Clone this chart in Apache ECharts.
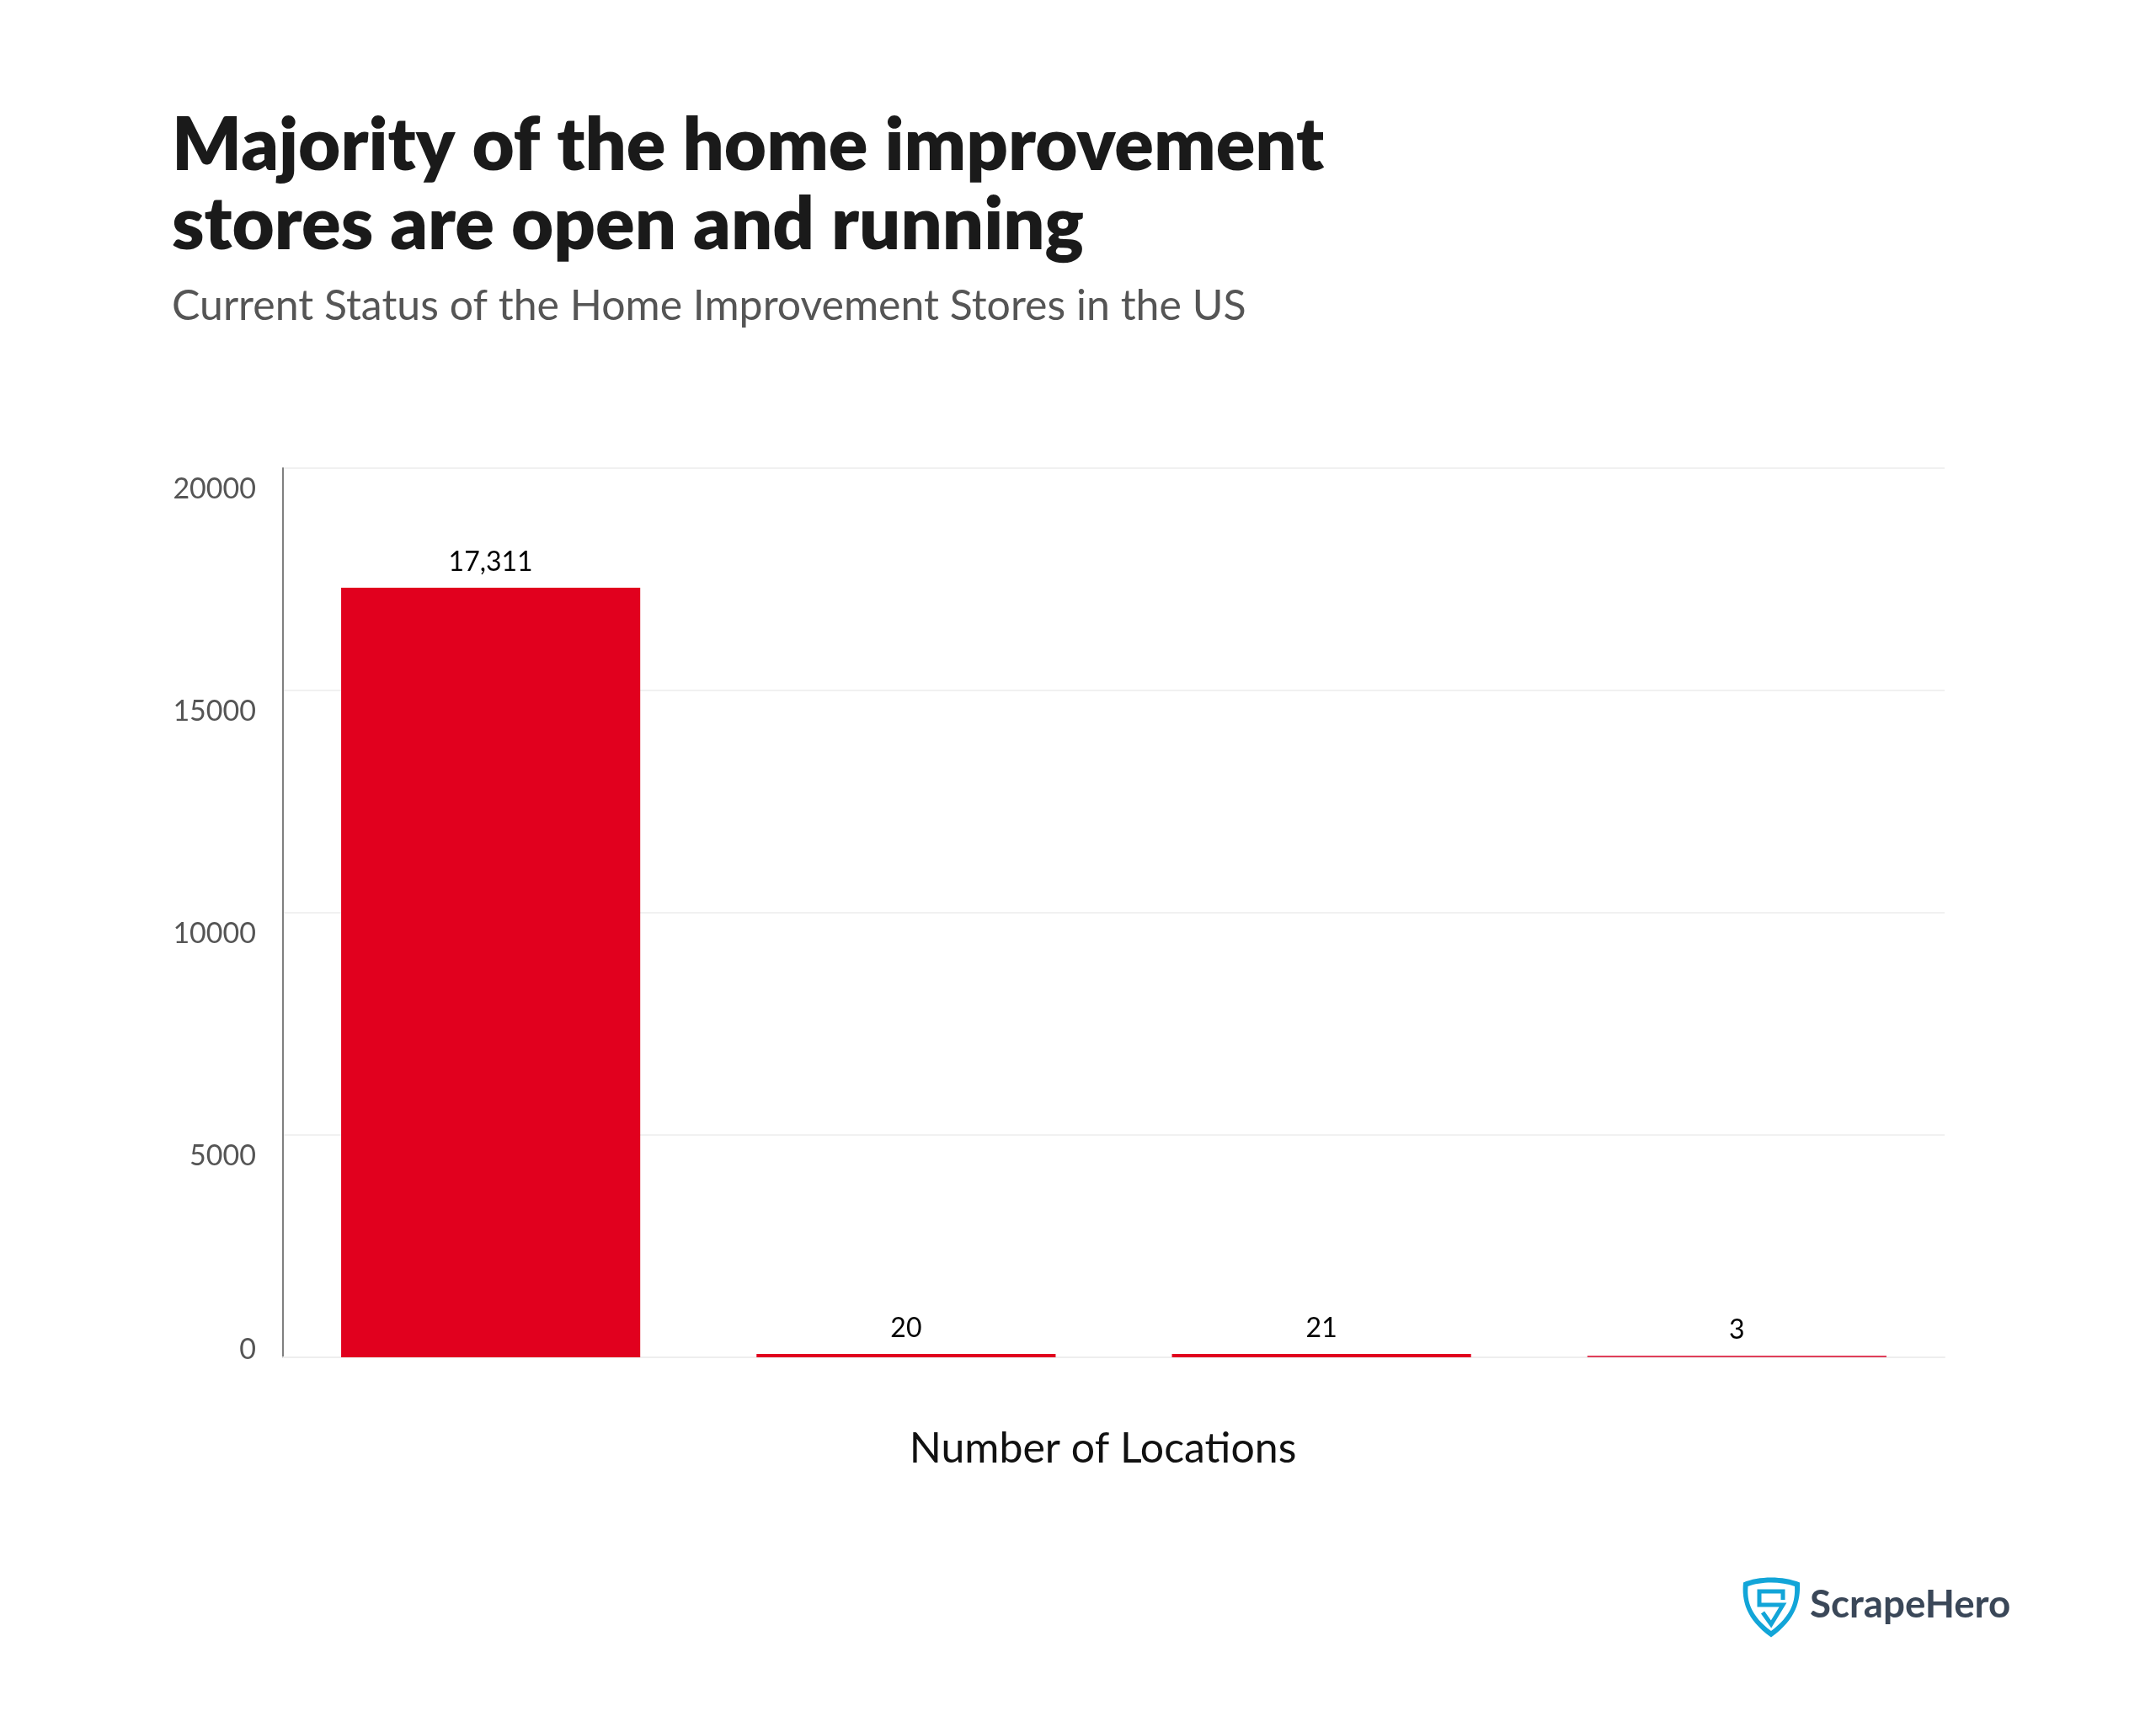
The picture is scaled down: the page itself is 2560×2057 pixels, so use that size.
<!DOCTYPE html>
<html>
<head>
<meta charset="utf-8">
<title>Home improvement stores</title>
<script src="https://cdn.jsdelivr.net/npm/echarts@6/dist/echarts.min.js"></script>
<style>
  html, body { margin: 0; padding: 0; background: #fff; }
  #chart { width: 2560px; height: 2057px; }
</style>
</head>
<body>
<div id="chart"></div>
<script>
// ===== Data =====
const categories = ['Status A', 'Status B', 'Status C', 'Status D']; // not printed on the chart
const locations = [17311, 20, 21, 3];
const titleLines = ['Majority of the home improvement', 'stores are open and running'];
const subtitle = 'Current Status of the Home Improvement Stores in the US';
const xName = 'Number of Locations';
const yMax = 20000;
const yStep = 5000;

const FONT = 'Lato';
const RED = '#e1001e';
const LOGO_BLUE = '#12a5d8';

// the 3-location bar is a hairline and paler than the others
const mainBars = locations.map(v => (v >= 10 ? v : null));
const thinBars = locations.map(v => (v < 10 ? v : null));

// Logo shield: outer edge, then inner edge wound the other way to leave a hole
echarts.graphic.registerShape('logoShield', echarts.graphic.extendPath(
  'M33 2.5 C45 2.5 57 4.5 67 8.5 C68 30 63 52 33 73.5 C3 52 -2 30 0 8.5 C9 4.5 21 2.5 33 2.5 Z ' +
  'M33 8.5 C23 8.5 13 10 5.5 13 C4 31 9 48 33 66 C57 48 62 31 61 13 C53 10 43 8.5 33 8.5 Z'
));

const barLabel = {
  show: true,
  position: 'top',
  distance: 14,
  color: '#000',
  fontFamily: FONT,
  fontSize: 32,
  formatter: p => p.value.toLocaleString('en-US')
};

const chart = echarts.init(document.getElementById('chart'));
chart.setOption({
  animation: false,
  backgroundColor: '#fff',
  title: [
    {
      text: titleLines.join('\n'),
      left: 199,
      top: 122,
      textStyle: { fontFamily: FONT, fontWeight: 800, fontSize: 86.6, lineHeight: 94, color: '#1a1a1a' }
    },
    {
      text: subtitle,
      left: 199,
      top: 334,
      textStyle: { fontFamily: FONT, fontWeight: 400, fontSize: 50, color: '#555' }
    }
  ],
  grid: { left: 336, right: 251, top: 556, bottom: 445 },
  xAxis: {
    type: 'category',
    data: categories,
    name: xName,
    nameLocation: 'middle',
    nameGap: 84,
    nameTextStyle: { fontFamily: FONT, fontSize: 50, color: '#111', padding: [0, 26, 0, 0] },
    axisLine: { show: true, lineStyle: { color: '#eee', width: 2 } },
    axisTick: { show: false },
    axisLabel: { show: false }
  },
  yAxis: {
    type: 'value',
    min: 0,
    max: yMax,
    interval: yStep,
    axisLine: { show: true, lineStyle: { color: '#808080', width: 2 } },
    axisTick: { show: false },
    splitLine: { lineStyle: { color: '#f1f1f1', width: 2 } },
    axisLabel: {
      margin: 32,
      verticalAlign: 'top',
      verticalAlignMinLabel: 'bottom',
      // the zero label sits just above the baseline, the rest hang below their gridlines
      formatter: v => (v === 0 ? '{zero|0}' : `{tick|${v}}`),
      rich: {
        tick: { color: '#555', fontFamily: FONT, fontSize: 34, padding: [8, 0, 0, 0] },
        zero: { color: '#555', fontFamily: FONT, fontSize: 34, lineHeight: 18 }
      }
    }
  },
  series: [
    {
      type: 'bar',
      data: mainBars,
      barWidth: '72%',
      barGap: '-100%',
      barMinHeight: 4,
      itemStyle: { color: RED },
      label: barLabel
    },
    {
      type: 'bar',
      data: thinBars,
      barWidth: '72%',
      barMinHeight: 2,
      itemStyle: { color: '#e0405a' },
      label: barLabel
    }
  ],
  graphic: [
    // ScrapeHero logo
    { type: 'logoShield', x: 2070, y: 1871, style: { fill: LOGO_BLUE } },
    {
      type: 'polyline',
      x: 2070,
      y: 1871,
      shape: { points: [[47, 29], [47, 19], [19, 19], [19, 35], [47, 35], [33, 58], [23, 44]] },
      style: { stroke: LOGO_BLUE, lineWidth: 5, fill: 'none' }
    },
    {
      type: 'text',
      left: 2149,
      top: 1883,
      style: { text: 'ScrapeHero', fontFamily: FONT, fontWeight: 700, fontSize: 45.7, fill: '#3a4758' }
    }
  ]
});
</script>
</body>
</html>
